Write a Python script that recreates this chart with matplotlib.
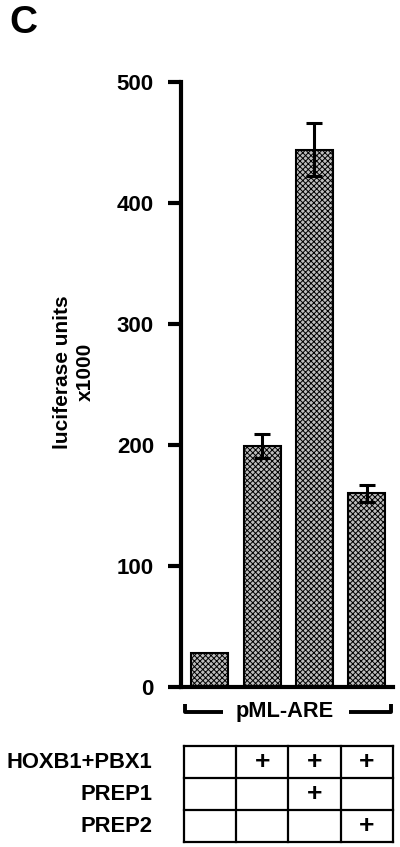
import matplotlib
matplotlib.use("Agg")
import matplotlib.pyplot as plt
import matplotlib.transforms as mtransforms
import numpy as np

# ---- data ----
conditions = ["1", "2", "3", "4"]
values = [28, 199, 444, 160]
errors = [np.nan, 10, 22, 7]
yticks = [0, 100, 200, 300, 400, 500]
row_labels = ["HOXB1+PBX1", "PREP1", "PREP2"]
matrix = [[0, 1, 1, 1],
          [0, 0, 1, 0],
          [0, 0, 0, 1]]
construct_label = "pML-ARE"
ylabel = "luciferase units\nx1000"
panel_label = "C"

plt.rcParams['font.family'] = ['Liberation Sans', 'DejaVu Sans']
plt.rcParams['font.weight'] = 'bold'
plt.rcParams['hatch.linewidth'] = 0.7

W, H = 400, 847
fig = plt.figure(figsize=(W / 100, H / 100), dpi=100)

def fx(px):
    return px / W

def fy(py):
    return 1 - py / H

ax_left, ax_right, ax_top, ax_bot = 181, 393, 82, 687
ax = fig.add_axes([fx(ax_left), fy(ax_bot), fx(ax_right - ax_left), (ax_bot - ax_top) / H])

x = np.arange(len(values))
ax.bar(x, values, width=0.71, facecolor='#bdbdbd', edgecolor='black',
       linewidth=1.5, hatch='xxxxxx', zorder=2)
ax.errorbar(x, values, yerr=errors, fmt='none', ecolor='black',
            elinewidth=2.2, capsize=5.5, capthick=2.2, zorder=3)

ax.set_xlim(-0.55, 3.5)
ax.set_ylim(0, 500)
ax.set_yticks(yticks)
ax.set_yticklabels([str(t) for t in yticks], fontsize=16, fontweight='bold')
ax.set_xticks([])
for s in ['top', 'right']:
    ax.spines[s].set_visible(False)
for s in ['left', 'bottom']:
    ax.spines[s].set_linewidth(3.0)
ax.tick_params(axis='y', direction='out', length=9.5, width=3.0, pad=10)

# construct bracket under the axis
trans = mtransforms.blended_transform_factory(ax.transData, ax.transAxes)
yb = -(712 - ax_bot) / (ax_bot - ax_top)
yt = -(704 - ax_bot) / (ax_bot - ax_top)
lw = 2.8
ax.plot([-0.47, -0.47, 0.25], [yt, yb, yb], color='black', lw=lw,
        transform=trans, clip_on=False, solid_capstyle='butt')
ax.plot([2.65, 3.47, 3.47], [yb, yb, yt], color='black', lw=lw,
        transform=trans, clip_on=False, solid_capstyle='butt')
ax.text(1.43, yb, construct_label, transform=trans, ha='center', va='center',
        fontsize=15.7, fontweight='bold')

# y label
fig.text(fx(74), fy(372), ylabel, rotation=90, ha='center', va='center',
         multialignment='center', fontsize=15, fontweight='bold', linespacing=1.25)

# panel label
fig.text(fx(9), fy(5), panel_label, ha='left', va='top', fontsize=28, fontweight='bold')

# condition table
tb_top, tb_bot = 746, 842
tax = fig.add_axes([fx(ax_left), fy(tb_bot), fx(ax_right - ax_left), (tb_bot - tb_top) / H])
tax.set_xlim(ax.get_xlim())
tax.set_ylim(len(row_labels), 0)
tax.axis('off')
ncol = len(values)
for i in range(ncol + 1):
    tax.plot([i - 0.5, i - 0.5], [0, len(row_labels)], color='black', lw=1.6,
             clip_on=False, solid_capstyle='projecting')
for j in range(len(row_labels) + 1):
    tax.plot([-0.5, ncol - 0.5], [j, j], color='black', lw=1.6,
             clip_on=False, solid_capstyle='projecting')
for j, row in enumerate(matrix):
    for i, v in enumerate(row):
        if v:
            tax.text(i, j + 0.5, "+", ha='center', va='center', fontsize=19,
                     fontweight='bold')
    tax.text(-1.1, j + 0.5, row_labels[j], ha='right', va='center', fontsize=15.8,
             fontweight='bold')

fig.savefig("out.png", dpi=100)
